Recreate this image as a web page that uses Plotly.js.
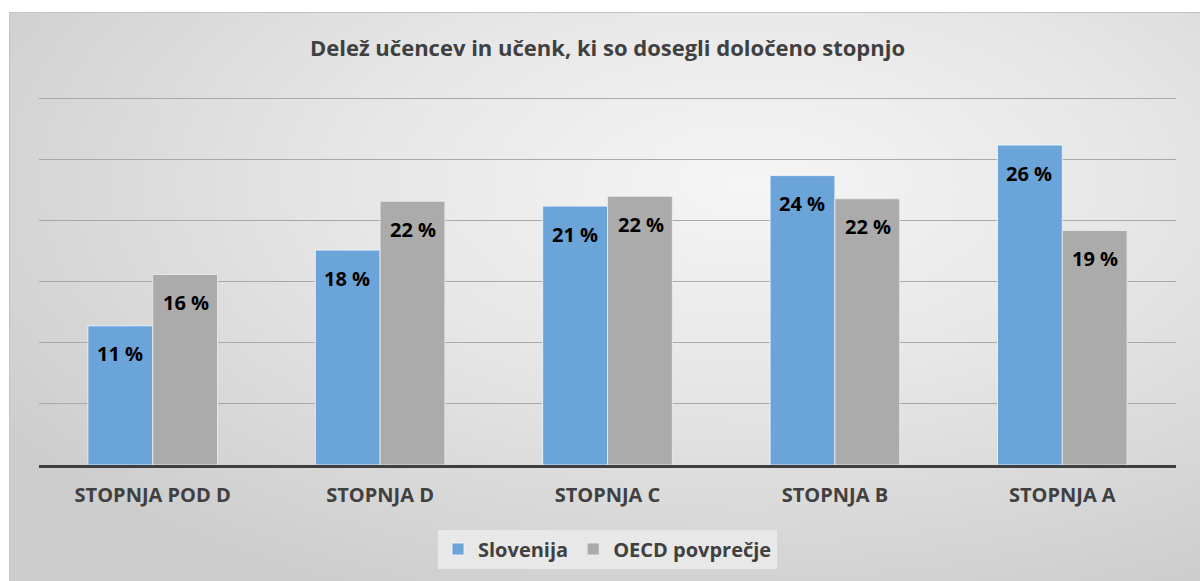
<!DOCTYPE html>
<html>
<head>
<meta charset="utf-8">
<script src="https://cdn.plot.ly/plotly-3.0.1.min.js"></script>
<style>
html,body{margin:0;padding:0;background:#ffffff;width:1200px;height:581px;overflow:hidden;}
#bg{position:absolute;left:9px;top:12px;width:1190px;height:568px;border:1px solid #c4c4c4;
 background:radial-gradient(ellipse 75% 80% at 62% 30%, #f5f5f5 0%, #e6e6e6 45%, #cdcdcd 100%);}
#chart{position:absolute;left:0;top:0;width:1200px;height:581px;}
</style>
</head>
<body>
<div id="bg"></div>
<div id="chart"></div>
<script>
const categories = ["STOPNJA POD D", "STOPNJA D", "STOPNJA C", "STOPNJA B", "STOPNJA A"];
const slovenija = [11.4, 17.6, 21.2, 23.7, 26.2];
const oecd = [15.6, 21.6, 22.0, 21.8, 19.2];
const seriesNames = ["Slovenija", "OECD povprečje"];

const FONT = "'Open Sans', sans-serif";
const labelFont = {family: FONT, size: 20, color: "#000000", weight: 700};

const traces = [
  {type: "bar", name: seriesNames[0], x: categories, y: slovenija,
   marker: {color: "#6ba4d9", line: {color: "rgba(240,246,252,0.85)", width: 1}}, hoverinfo: "none"},
  {type: "bar", name: seriesNames[1], x: categories, y: oecd,
   marker: {color: "#ababab", line: {color: "rgba(235,235,235,0.85)", width: 1}}, hoverinfo: "none"}
];

const annotations = [];
[slovenija, oecd].forEach((vals, si) => {
  vals.forEach((v, i) => {
    annotations.push({x: categories[i], y: v, xref: "x", yref: "y",
      text: "<b>" + Math.round(v) + " %</b>", showarrow: false,
      xshift: si === 0 ? -33 : 33, yshift: -28, yanchor: "middle", xanchor: "center",
      font: labelFont});
  });
});

const layout = {
  width: 1200, height: 581,
  paper_bgcolor: "rgba(0,0,0,0)", plot_bgcolor: "rgba(0,0,0,0)",
  margin: {l: 39, r: 24, t: 95, b: 116},
  title: {text: "<b>Delež učencev in učenk, ki so dosegli določeno stopnjo</b>",
    font: {family: FONT, size: 22, color: "#404040"},
    x: 0.5, xref: "paper", xanchor: "center", y: 1 - 48/581, yref: "container", yanchor: "middle"},
  barmode: "group", bargap: 0.43, bargroupgap: 0,
  xaxis: {showline: true, linecolor: "#3f3f3f", linewidth: 3, ticks: "", showgrid: false,
    tickfont: {family: FONT, size: 20, color: "#404040", weight: 700},
    ticklabelstandoff: 10},
  yaxis: {range: [0, 30.3], dtick: 5, showticklabels: false, showgrid: true,
    gridcolor: "#a9a9a9", gridwidth: 1, zeroline: false, ticks: ""},
  showlegend: true,
  legend: {orientation: "h", x: 0.5, xanchor: "center", y: -(549-465)/370, yanchor: "middle",
    bgcolor: "#e8e8e8", borderwidth: 0,
    font: {family: FONT, size: 20, color: "#404040", weight: 700},
    itemwidth: 30, tracegroupgap: 0},
  annotations: annotations
};

Plotly.newPlot("chart", traces, layout, {displayModeBar: false, staticPlot: true});
</script>
</body>
</html>
